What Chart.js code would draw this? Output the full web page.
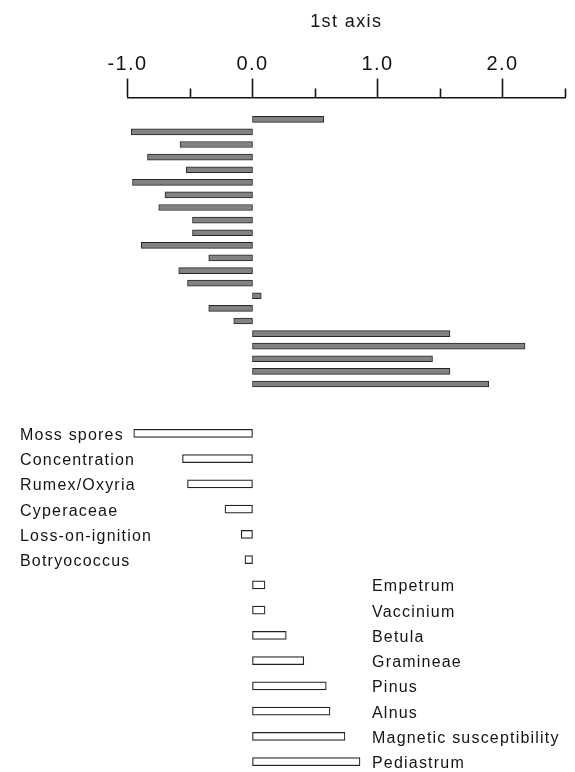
<!DOCTYPE html>
<html>
<head>
<meta charset="utf-8">
<title>Ordination scores on the 1st axis</title>
<script src="https://cdn.jsdelivr.net/npm/chart.js@4.4.1/dist/chart.umd.min.js"></script>
<style>
  html, body { margin: 0; padding: 0; background: #fff; width: 575px; height: 772px; overflow: hidden; }
  canvas { position: absolute; left: 0; top: 0; }
</style>
</head>
<body>
<canvas id="axisChart" width="575" height="772"></canvas>
<canvas id="sampleChart" width="575" height="772"></canvas>
<canvas id="variableChart" width="575" height="800"></canvas>
<script>
// Sample scores on the 1st ordination axis, top to bottom
const sampleIds = ['1','2','3','4','5','6','7','8','9','10','11','12','13','14','15','16','17','18','19','20','21','22'];
const sampleScores = [0.57, -0.97, -0.58, -0.84, -0.53, -0.96, -0.70, -0.75, -0.48, -0.48, -0.89, -0.35,
                      -0.59, -0.52, 0.07, -0.35, -0.15, 1.58, 2.18, 1.44, 1.58, 1.89];

// Variable scores on the same axis
const variableNames = ['Moss spores', 'Concentration', 'Rumex/Oxyria', 'Cyperaceae', 'Loss-on-ignition',
                       'Botryococcus', 'Empetrum', 'Vaccinium', 'Betula', 'Gramineae', 'Pinus', 'Alnus',
                       'Magnetic susceptibility', 'Pediastrum'];
const variableScores = [-0.95, -0.56, -0.52, -0.22, -0.09, -0.06, 0.10, 0.10, 0.27, 0.41, 0.59, 0.62, 0.74, 0.86];

// Axis ticks: every 0.5, labelled at whole units
const axisTitle = '1st axis';
const labelledTicks = [-1, 0, 1, 2];

const FONT = '"Liberation Sans", Arial, Helvetica, sans-serif';
const INK = '#141414';
const AXIS_MIN = -1, AXIS_MAX = 2.5;
const PLOT_LEFT = 127.5, PLOT_RIGHT_PAD = 575 - 565;

const isLabelled = v => labelledTicks.some(t => Math.abs(t - v) < 1e-6);

const spacing = px => ({
  id: 'letterSpacing',
  beforeDraw(chart) { chart.ctx.letterSpacing = px; }
});

const commonOpts = {
  responsive: false,
  animation: false,
  events: [],
  plugins: { legend: { display: false }, tooltip: { enabled: false } }
};

// Top axis with major and minor ticks (its empty plot area sits behind the sample bars)
new Chart(document.getElementById('axisChart'), {
  type: 'bar',
  data: { labels: [], datasets: [] },
  plugins: [spacing('1.4px')],
  options: {
    ...commonOpts,
    indexAxis: 'y',
    layout: { padding: { top: 11, left: PLOT_LEFT, right: PLOT_RIGHT_PAD, bottom: 772 - 300 } },
    scales: {
      x: {
        type: 'linear',
        position: 'top',
        min: AXIS_MIN,
        max: AXIS_MAX,
        ticks: {
          stepSize: 0.5,
          autoSkip: false,
          maxRotation: 0,
          padding: 2,
          color: INK,
          font: { family: FONT, size: 20 },
          callback: v => isLabelled(v) ? v.toFixed(1) : ''
        },
        grid: {
          drawOnChartArea: false,
          drawTicks: true,
          tickLength: 19,
          tickWidth: 1.6,
          tickColor: INK,
          tickBorderDash: ctx => (ctx.tick && isLabelled(ctx.tick.value)) ? [] : [0, 10, 9, 100]
        },
        border: { display: true, color: INK, width: 1.6 },
        title: {
          display: true,
          text: axisTitle,
          color: INK,
          font: { family: FONT, size: 18 },
          padding: { top: 0, bottom: 18 }
        }
      },
      y: { display: false }
    }
  }
});

// Sample score bars
new Chart(document.getElementById('sampleChart'), {
  type: 'bar',
  data: {
    labels: sampleIds,
    datasets: [{
      data: sampleScores,
      backgroundColor: '#828282',
      borderColor: '#262626',
      borderWidth: 1,
      borderSkipped: false,
      barThickness: 6
    }]
  },
  options: {
    ...commonOpts,
    indexAxis: 'y',
    layout: { padding: { top: 113, left: PLOT_LEFT, right: PLOT_RIGHT_PAD, bottom: 772 - 390.3 } },
    scales: {
      x: { type: 'linear', display: false, min: AXIS_MIN, max: AXIS_MAX },
      y: { display: false, offset: true }
    }
  }
});

// Variable names: negative scores labelled on the left, positive on the right
const variableLabels = {
  id: 'variableLabels',
  afterDatasetsDraw(chart) {
    const { ctx } = chart;
    const yScale = chart.scales.y;
    ctx.save();
    ctx.font = '16px ' + FONT;
    ctx.fillStyle = INK;
    ctx.textAlign = 'left';
    ctx.textBaseline = 'middle';
    ctx.letterSpacing = '1.2px';
    variableNames.forEach((name, i) => {
      const y = yScale.getPixelForValue(i) + 2;
      const x = variableScores[i] < 0 ? 20 : 372;
      ctx.fillText(name, x, y);
    });
    ctx.restore();
  }
};

// Variable score bars
new Chart(document.getElementById('variableChart'), {
  type: 'bar',
  data: {
    labels: variableNames,
    datasets: [{
      data: variableScores,
      backgroundColor: '#ffffff',
      borderColor: '#222222',
      borderWidth: 1.2,
      borderSkipped: false,
      barThickness: 8
    }]
  },
  plugins: [variableLabels],
  options: {
    ...commonOpts,
    indexAxis: 'y',
    layout: { padding: { top: 420.7, left: PLOT_LEFT, right: PLOT_RIGHT_PAD, bottom: 800 - 774.3 } },
    scales: {
      x: { type: 'linear', display: false, min: AXIS_MIN, max: AXIS_MAX },
      y: { display: false, offset: true }
    }
  }
});
</script>
</body>
</html>
